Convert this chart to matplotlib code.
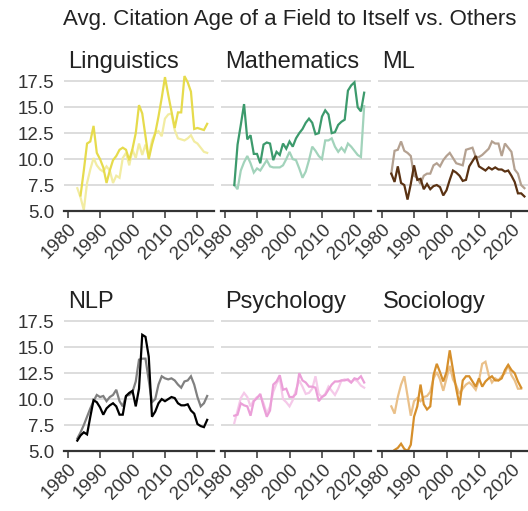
import numpy as np
import matplotlib.pyplot as plt

plt.rcParams['font.family'] = ['Liberation Sans', 'DejaVu Sans']

fields = ["Linguistics", "Mathematics", "ML", "NLP", "Psychology", "Sociology"]

# dark line: citations to itself, light line: citations to others
ling_years = list(range(1983, 2024))
ling_self = [np.nan, 6.5, 8.9, 11.5, 11.7, 13.2, 10.6, 10.0, 9.2, 7.7, 8.9, 9.9, 10.3, 10.9,
             11.1, 10.9, 9.9, 11.0, 12.5, 15.2, 14.4, 12.2, 10.0, 11.4, 12.5, 14.1, 15.9,
             17.9, 16.2, 14.6, 13.0, 14.5, 14.5, 18.0, 17.4, 16.5, 12.9, 13.0, 12.9, 12.8, 13.4]
ling_other = [7.2, 6.3, 5.1, 7.7, 9.0, 10.1, 9.4, 9.0, 8.8, 9.3, 8.9, 7.7, 8.4, 8.2, 10.1,
              10.6, 9.4, 10.9, 10.1, 11.5, 10.4, 11.4, 10.2, 11.8, 12.5, 12.7, 12.2, 13.9,
              14.3, 14.4, 12.8, 12.0, 11.9, 11.8, 12.0, 12.3, 11.7, 11.5, 11.1, 10.7, 10.6]

math_years = list(range(1983, 2024))
math_self = [7.5, 11.4, 13.3, 15.3, 11.9, 12.3, 10.5, 10.5, 9.6, 11.4, 11.6, 11.5, 9.9, 10.7,
             10.4, 11.5, 11.0, 11.7, 11.2, 12.0, 12.5, 12.9, 13.5, 13.9, 13.5, 12.4, 12.5,
             14.1, 14.7, 14.3, 12.5, 12.6, 13.3, 13.6, 13.8, 16.6, 17.1, 17.4, 15.0, 14.6, 16.4]
math_other = [7.5, 7.1, 8.9, 9.7, 10.3, 9.6, 8.7, 9.1, 8.9, 9.4, 9.9, 9.3, 9.2, 9.2, 9.2,
              9.4, 10.0, 10.7, 10.0, 9.9, 9.1, 8.2, 8.8, 9.9, 11.2, 10.8, 10.3, 10.0, 11.8,
              11.8, 12.0, 11.2, 10.7, 11.1, 10.7, 11.5, 11.2, 10.8, 10.4, 10.2, 15.1]

ml_years = list(range(1983, 2025))
ml_self = [8.6, 7.8, 9.3, 7.7, 7.5, 6.1, 7.6, 9.4, 8.0, 8.1, 7.1, 7.6, 7.1, 7.4, 7.5, 7.3,
           6.5, 7.0, 8.0, 8.9, 8.7, 8.4, 7.9, 8.0, 9.3, 9.8, 10.3, 9.3, 9.1, 8.9, 9.2, 9.0,
           9.2, 9.0, 9.0, 8.8, 8.9, 8.4, 7.8, 6.7, 6.7, 6.4]
ml_other = [8.6, 10.8, 10.9, 11.7, 10.8, 10.6, 10.3, 8.4, 8.2, 7.6, 8.4, 8.6, 8.6, 9.4, 9.6,
            9.3, 9.9, 10.3, 10.6, 10.1, 9.6, 9.5, 9.4, 10.9, 11.0, 11.1, 10.2, 10.2, 10.4,
            10.7, 11.0, 11.7, 11.5, 11.5, 10.3, 11.5, 11.1, 10.7, 9.0, 8.6, 7.5, 7.2]

nlp_years = list(range(1983, 2024))
nlp_self = [6.0, 6.5, 6.8, 6.6, 8.3, 9.9, 9.7, 9.2, 8.5, 9.1, 9.4, 9.6, 9.3, 8.5, 8.5, 10.3,
            10.6, 10.8, 9.3, 11.0, 16.2, 16.0, 14.1, 8.3, 8.8, 9.6, 10.0, 9.8, 10.0, 10.2,
            10.1, 9.6, 9.4, 9.4, 9.5, 8.9, 8.6, 7.6, 7.4, 7.3, 8.0]
nlp_other = [6.2, 6.8, 7.5, 8.3, 9.1, 9.8, 10.4, 10.2, 10.3, 9.8, 10.2, 10.4, 10.9, 9.8, 9.3,
             10.3, 10.4, 10.7, 11.7, 13.8, 13.9, 13.9, 11.8, 9.7, 10.0, 11.4, 12.2, 12.0,
             11.9, 12.0, 11.8, 11.4, 11.1, 11.7, 11.8, 12.2, 11.4, 10.2, 9.3, 9.6, 10.3]

psy_years = list(range(1983, 2024))
psy_self = [8.4, 8.5, 9.6, 9.4, 9.3, 8.4, 9.8, 10.1, 10.5, 9.3, 8.3, 8.9, 11.4, 11.7, 12.3,
            10.9, 11.0, 10.2, 10.2, 10.5, 12.5, 11.8, 11.6, 11.2, 11.2, 11.1, 9.8, 10.2,
            10.4, 10.9, 11.4, 11.7, 11.7, 11.8, 11.8, 11.9, 11.6, 12.0, 11.9, 12.2, 11.6]
psy_other = [7.7, 8.9, 10.1, 10.6, 10.2, 9.3, 9.9, 10.2, 10.3, 9.6, 8.6, 9.3, 10.7, 11.5,
             12.0, 10.0, 9.7, 9.3, 9.9, 10.9, 11.8, 11.2, 10.5, 10.6, 11.0, 12.2, 10.5,
             10.2, 10.5, 11.2, 10.8, 10.4, 11.0, 11.8, 11.9, 11.8, 11.6, 11.9, 11.7, 11.3, 11.1]

soc_years = list(range(1983, 2024))
soc_self = [np.nan, 5.1, 5.3, 5.7, 5.2, 5.0, 5.6, 8.3, 9.3, 11.4, 9.5, 9.0, 9.3, 12.3, 13.4,
            12.6, 11.7, 12.6, 14.7, 12.8, 11.0, 9.4, 11.8, 12.2, 12.2, 11.7, 11.2, 12.0,
            11.2, 11.7, 12.0, 12.2, 11.8, 11.8, 12.0, 12.8, 13.3, 12.8, 12.5, 11.7, 11.1]
soc_other = [9.3, 8.6, 10.2, 11.4, 12.2, 10.3, 8.4, 9.8, 10.1, 9.8, 10.2, 10.3, 10.7, 12.0,
             12.6, 11.9, 10.8, 12.0, 13.2, 11.9, 11.3, 10.5, 11.0, 11.4, 11.6, 11.3, 10.9,
             11.8, 13.4, 13.6, 12.3, 11.6, 12.0, 11.8, 12.2, 12.5, 13.3, 12.3, 11.8, 11.0, 11.0]

series = [
    (ling_years, ling_self, ling_other, "#e6db4c", "#f2eca2"),
    (math_years, math_self, math_other, "#3c9a6c", "#a2d3bb"),
    (ml_years, ml_self, ml_other, "#5a3213", "#b4a191"),
    (nlp_years, nlp_self, nlp_other, "#000000", "#808080"),
    (psy_years, psy_self, psy_other, "#eb9fd8", "#f5c9e9"),
    (soc_years, soc_self, soc_other, "#d68f2b", "#eac089"),
]

fig = plt.figure(figsize=(5.28, 5.11), dpi=100)
lefts = [64 / 528, 221 / 528, 378 / 528]
bottoms = [1 - 211 / 511, 1 - 451 / 511]
w, h = 150 / 528, 137 / 511

for i, (name, (yrs, s, o, dark, light)) in enumerate(zip(fields, series)):
    r, c = divmod(i, 3)
    ax = fig.add_axes([lefts[c], bottoms[r], w, h])
    ax.plot(yrs, o, color=light, lw=1.6, solid_joinstyle='miter')
    ax.plot(yrs, s, color=dark, lw=1.6, solid_joinstyle='miter')
    ax.set_xlim(1978.9, 2025.1)
    ax.set_ylim(5, 18.2)
    ax.set_yticks([5, 7.5, 10, 12.5, 15, 17.5])
    ax.set_xticks([1980, 1990, 2000, 2010, 2020])
    ax.yaxis.grid(True, color="#d3d3d3", lw=1.1)
    ax.set_axisbelow(True)
    for sp in ["top", "right", "left"]:
        ax.spines[sp].set_visible(False)
    ax.spines["bottom"].set_color("#333333")
    ax.spines["bottom"].set_linewidth(1.6)
    ax.tick_params(axis='x', length=5, width=1.1, color="#333333", labelsize=13.5,
                   labelcolor="#333333", pad=2)
    ax.tick_params(axis='y', length=0, labelsize=13.5, labelcolor="#333333", pad=7)
    plt.setp(ax.get_xticklabels(), rotation=45, ha='right', rotation_mode='anchor')
    if c == 0:
        ax.set_yticklabels(["5.0", "7.5", "10.0", "12.5", "15.0", "17.5"])
    else:
        ax.set_yticklabels([])
    ax.text(0.03, 1.045, name, transform=ax.transAxes, fontsize=17, color="#222222",
            ha='left', va='baseline')

fig.text(0.549, 0.962, "Avg. Citation Age of a Field to Itself vs. Others",
         ha='center', va='center', fontsize=16, color="#222222")

fig.savefig("out.png", dpi=100)
